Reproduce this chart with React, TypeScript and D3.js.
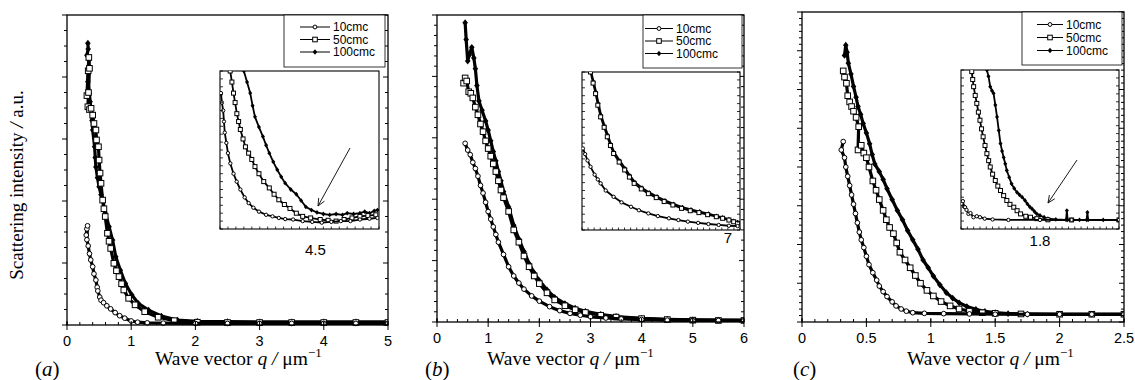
import React from "react";
import * as d3 from "d3";

type Pt = [number, number];

const SERIES_NAMES = ["10cmc", "50cmc", "100cmc"];

// ---------- Panel (a) main ----------
const a10: Pt[] = [[0.30,2.9],[0.31,3.1],[0.32,3.2],[0.31,2.75],[0.33,2.55],[0.35,2.3],[0.37,2.1],[0.40,1.88],[0.42,1.65],[0.45,1.45],[0.47,1.22],[0.48,1.1],[0.51,0.9],[0.53,0.8],[0.57,0.72],[0.62,0.62],[0.68,0.52],[0.75,0.4],[0.82,0.3],[0.9,0.22],[1.0,0.13],[1.1,0.09],[1.25,0.07],[1.5,0.06],[2,0.05],[2.5,0.05],[3,0.05],[3.5,0.05],[4,0.05],[4.5,0.05],[5,0.05]];
const a50: Pt[] = [[0.31,7.4],[0.33,8.2],[0.34,8.63],[0.35,8.28],[0.335,7.5],[0.325,7.04],[0.35,6.95],[0.375,6.99],[0.4,6.77],[0.42,6.5],[0.45,6.29],[0.46,5.97],[0.49,5.75],[0.5,5.32],[0.515,4.9],[0.53,4.57],[0.555,4.03],[0.575,3.75],[0.595,3.5],[0.63,2.96],[0.655,2.7],[0.68,2.47],[0.73,1.99],[0.77,1.75],[0.81,1.56],[0.85,1.33],[0.885,1.13],[0.96,0.86],[1.06,0.65],[1.21,0.43],[1.42,0.25],[1.67,0.14],[2.03,0.09],[2.5,0.08],[3,0.08],[3.5,0.08],[4,0.08],[4.5,0.08],[5,0.08]];
const a100: Pt[] = [[0.325,9.09],[0.33,8.9],[0.31,8.7],[0.34,8.55],[0.33,8.2],[0.325,7.85],[0.35,7.47],[0.36,7.2],[0.375,6.94],[0.39,6.6],[0.4,6.29],[0.43,5.75],[0.44,5.4],[0.45,5.1],[0.475,4.75],[0.5,4.46],[0.53,4.2],[0.555,4.03],[0.6,3.6],[0.655,3.17],[0.71,2.74],[0.76,2.2],[0.83,1.77],[0.91,1.34],[1.01,0.97],[1.11,0.7],[1.27,0.48],[1.47,0.29],[1.72,0.16],[2.03,0.12],[2.5,0.11],[3,0.1],[3.5,0.1],[4,0.1],[4.5,0.1],[5,0.1]];

// ---------- Panel (a) inset ----------
const ia10: Pt[] = [[3.312,0.86],[3.324,0.8],[3.34,0.75],[3.35,0.68],[3.36,0.61],[3.38,0.545],[3.4,0.48],[3.43,0.415],[3.47,0.35],[3.51,0.3],[3.556,0.25],[3.61,0.2],[3.66,0.164],[3.72,0.135],[3.79,0.11],[3.88,0.09],[3.96,0.08],[4.04,0.07],[4.12,0.063],[4.22,0.06],[4.34,0.05],[4.46,0.045],[4.58,0.04],[4.7,0.045],[4.82,0.05],[4.94,0.05],[5.06,0.06],[5.18,0.065],[5.28,0.07]];
const ia50: Pt[] = [[3.428,1.0],[3.45,0.93],[3.47,0.86],[3.49,0.8],[3.512,0.73],[3.534,0.68],[3.556,0.63],[3.59,0.57],[3.62,0.52],[3.66,0.48],[3.7,0.44],[3.74,0.395],[3.79,0.35],[3.85,0.3],[3.92,0.26],[3.98,0.22],[4.04,0.185],[4.11,0.155],[4.18,0.13],[4.26,0.1],[4.34,0.08],[4.44,0.07],[4.56,0.06],[4.66,0.055],[4.76,0.05],[4.86,0.06],[4.96,0.07],[5.06,0.08],[5.16,0.085],[5.26,0.09]];
const ia100: Pt[] = [[3.6,1.0],[3.64,0.93],[3.68,0.86],[3.71,0.78],[3.74,0.71],[3.79,0.645],[3.84,0.585],[3.88,0.53],[3.92,0.48],[3.97,0.425],[4.02,0.375],[4.07,0.33],[4.12,0.29],[4.19,0.25],[4.26,0.22],[4.32,0.18],[4.38,0.14],[4.45,0.12],[4.52,0.105],[4.6,0.095],[4.68,0.09],[4.76,0.095],[4.84,0.09],[4.9,0.1],[4.98,0.095],[5.06,0.1],[5.12,0.11],[5.18,0.1],[5.24,0.115],[5.28,0.12]];

// ---------- Panel (b) main ----------
const b10: Pt[] = [[0.55,5.82],[0.6,5.6],[0.65,5.45],[0.7,5.2],[0.75,5.0],[0.8,4.75],[0.85,4.45],[0.9,4.2],[0.95,3.9],[1.0,3.6],[1.05,3.35],[1.1,3.1],[1.15,2.85],[1.2,2.6],[1.3,2.2],[1.4,1.8],[1.5,1.5],[1.6,1.27],[1.7,1.07],[1.85,0.85],[2.0,0.68],[2.2,0.5],[2.4,0.37],[2.6,0.28],[2.8,0.22],[3.0,0.17],[3.3,0.13],[3.6,0.1],[4,0.08],[4.5,0.06],[5,0.05],[5.5,0.05],[6,0.05]];
const b50: Pt[] = [[0.52,7.78],[0.55,7.95],[0.58,7.85],[0.62,7.5],[0.66,7.45],[0.7,7.3],[0.75,7.0],[0.8,6.75],[0.85,6.45],[0.9,6.2],[0.95,5.9],[1.0,5.65],[1.05,5.4],[1.1,5.15],[1.15,4.9],[1.2,4.6],[1.25,4.3],[1.3,4.05],[1.4,3.6],[1.5,3.0],[1.6,2.6],[1.7,2.15],[1.8,1.8],[1.9,1.5],[2.0,1.25],[2.15,0.95],[2.3,0.72],[2.5,0.53],[2.7,0.4],[2.9,0.31],[3.2,0.22],[3.5,0.16],[4,0.11],[4.5,0.08],[5,0.06],[5.5,0.05],[6,0.05]];
const b100: Pt[] = [[0.55,9.75],[0.57,9.2],[0.6,8.5],[0.63,8.7],[0.68,8.95],[0.72,8.6],[0.75,8.25],[0.78,7.7],[0.82,7.2],[0.88,6.9],[0.95,6.55],[1.0,6.25],[1.05,5.9],[1.1,5.55],[1.15,5.25],[1.2,4.9],[1.25,4.6],[1.3,4.25],[1.4,3.75],[1.5,3.15],[1.6,2.7],[1.7,2.3],[1.8,1.9],[1.9,1.6],[2.0,1.35],[2.15,1.05],[2.3,0.8],[2.5,0.6],[2.7,0.45],[2.9,0.35],[3.2,0.25],[3.5,0.18],[4,0.12],[4.5,0.09],[5,0.07],[5.5,0.06],[6,0.05]];

// ---------- Panel (b) inset ----------
const ib10: Pt[] = [[1.039,0.516],[1.13,0.48],[1.228,0.44],[1.351,0.4],[1.52,0.35],[1.65,0.32],[1.767,0.295],[1.975,0.25],[2.3,0.21],[2.625,0.175],[3.015,0.147],[3.34,0.125],[3.73,0.105],[4.12,0.088],[4.575,0.074],[4.965,0.063],[5.355,0.053],[5.778,0.045],[6.2,0.038],[6.623,0.032],[7.045,0.027],[7.403,0.025]];
const ib50: Pt[] = [[1.351,1.0],[1.455,0.93],[1.559,0.863],[1.65,0.79],[1.767,0.716],[1.91,0.65],[2.04,0.59],[2.17,0.535],[2.3,0.484],[2.528,0.43],[2.755,0.38],[2.95,0.335],[3.145,0.295],[3.438,0.26],[3.73,0.23],[4.055,0.205],[4.38,0.18],[4.738,0.158],[5.095,0.137],[5.453,0.122],[5.81,0.11],[6.168,0.097],[6.525,0.084],[6.785,0.074],[7.045,0.063],[7.24,0.052],[7.403,0.042]];
const ib100: Pt[] = [[1.377,1.0],[1.488,0.935],[1.585,0.87],[1.683,0.8],[1.793,0.725],[1.943,0.655],[2.073,0.598],[2.203,0.54],[2.333,0.49],[2.56,0.438],[2.788,0.388],[2.983,0.343],[3.178,0.303],[3.47,0.268],[3.763,0.238],[4.088,0.212],[4.413,0.188],[4.77,0.165],[5.128,0.145],[5.485,0.13],[5.843,0.117],[6.2,0.104],[6.525,0.09],[6.785,0.08],[7.045,0.068],[7.24,0.058],[7.403,0.05]];

// ---------- Panel (c) main ----------
const c10: Pt[] = [[0.32,5.82],[0.305,5.55],[0.33,5.3],[0.34,5.0],[0.355,4.7],[0.37,4.4],[0.385,4.1],[0.4,3.8],[0.415,3.5],[0.43,3.2],[0.445,2.9],[0.46,2.65],[0.48,2.4],[0.5,2.12],[0.52,1.85],[0.55,1.59],[0.58,1.35],[0.6,1.16],[0.63,0.98],[0.66,0.82],[0.7,0.65],[0.73,0.52],[0.77,0.42],[0.81,0.35],[0.86,0.3],[0.95,0.28],[1.1,0.27],[1.3,0.26],[1.5,0.25],[1.75,0.25],[2.0,0.25],[2.25,0.25],[2.5,0.25]];
const c50: Pt[] = [[0.32,8.1],[0.33,7.9],[0.345,7.7],[0.355,7.3],[0.37,7.1],[0.385,6.95],[0.4,6.8],[0.42,6.6],[0.44,6.3],[0.435,5.55],[0.46,5.7],[0.48,5.45],[0.5,5.3],[0.52,5.0],[0.55,4.55],[0.575,4.25],[0.6,3.95],[0.63,3.6],[0.655,3.3],[0.68,3.05],[0.71,2.85],[0.735,2.55],[0.76,2.25],[0.8,2.0],[0.84,1.75],[0.88,1.5],[0.92,1.25],[0.97,1.02],[1.02,0.84],[1.08,0.66],[1.15,0.52],[1.22,0.42],[1.3,0.35],[1.4,0.3],[1.5,0.28],[1.7,0.26],[2.0,0.25],[2.25,0.25],[2.5,0.25]];
const c100: Pt[] = [[0.33,8.6],[0.34,8.93],[0.35,8.7],[0.36,8.35],[0.38,8.0],[0.4,7.6],[0.42,7.25],[0.435,6.95],[0.455,6.7],[0.475,6.4],[0.5,6.1],[0.525,5.75],[0.545,5.4],[0.565,5.1],[0.6,4.85],[0.63,4.6],[0.66,4.3],[0.7,3.95],[0.74,3.6],[0.78,3.3],[0.82,2.95],[0.86,2.65],[0.9,2.35],[0.94,2.0],[0.98,1.75],[1.02,1.48],[1.07,1.2],[1.12,0.95],[1.17,0.77],[1.22,0.62],[1.28,0.5],[1.35,0.41],[1.42,0.34],[1.5,0.3],[1.6,0.27],[1.75,0.25],[2.0,0.25],[2.25,0.25],[2.5,0.25]];

// ---------- Panel (c) inset ----------
const ic10: Pt[] = [[1.304,0.158],[1.312,0.175],[1.32,0.14],[1.326,0.137],[1.335,0.12],[1.347,0.095],[1.36,0.1],[1.379,0.074],[1.4,0.08],[1.42,0.074],[1.45,0.065],[1.5,0.06],[1.6,0.057],[1.8,0.057],[2.0,0.057],[2.3,0.057]];
const ic50: Pt[] = [[1.368,0.99],[1.374,0.94],[1.38,0.895],[1.39,0.84],[1.4,0.79],[1.41,0.735],[1.42,0.684],[1.43,0.63],[1.44,0.58],[1.452,0.525],[1.464,0.474],[1.475,0.43],[1.485,0.39],[1.5,0.345],[1.517,0.305],[1.533,0.27],[1.55,0.242],[1.57,0.21],[1.59,0.179],[1.61,0.155],[1.634,0.137],[1.655,0.115],[1.677,0.095],[1.71,0.08],[1.74,0.074],[1.78,0.065],[1.85,0.058],[2.0,0.057],[2.3,0.057]];
const ic100: Pt[] = [[1.464,1.0],[1.474,0.96],[1.485,0.895],[1.496,0.87],[1.506,0.853],[1.517,0.78],[1.528,0.705],[1.539,0.62],[1.55,0.537],[1.56,0.49],[1.57,0.45],[1.58,0.41],[1.59,0.368],[1.605,0.325],[1.62,0.284],[1.637,0.255],[1.655,0.23],[1.67,0.215],[1.687,0.2],[1.705,0.18],[1.72,0.158],[1.735,0.14],[1.75,0.126],[1.765,0.11],[1.78,0.095],[1.8,0.085],[1.826,0.074],[1.85,0.065],[1.9,0.06],[1.965,0.058],[1.97,0.116],[1.975,0.058],[2.05,0.058],[2.095,0.058],[2.1,0.105],[2.105,0.058],[2.2,0.057],[2.3,0.057]];

// ---------- Tick values / labels ----------
const xTicksA = [0, 1, 2, 3, 4, 5];
const xTicksB = [0, 1, 2, 3, 4, 5, 6];
const xTicksC = [0, 0.5, 1, 1.5, 2, 2.5];
const xTickLabelsC = ["0", "0.5", "1", "1.5", "2", "2.5"];
const insetTickA = 4.5, insetLabelA = "4.5";
const insetTickB = 7, insetLabelB = "7";
const insetTickC = 1.8, insetLabelC = "1.8";
const panelTags = ["a", "b", "c"];

const SERIF = "'Liberation Serif', 'Times New Roman', serif";
const SANS = "'Liberation Sans', Arial, Helvetica, sans-serif";

function marker(kind: number, x: number, y: number, s: number, key: string | number) {
  if (kind === 0)
    return <circle key={key} cx={x} cy={y} r={s * 0.42} fill="#fff" stroke="#000" strokeWidth={1} />;
  if (kind === 1)
    return <rect key={key} x={x - s / 2} y={y - s / 2} width={s} height={s} fill="#fff" stroke="#000" strokeWidth={1} />;
  return <path key={key} d={`M${x},${y - s * 0.6}L${x + s * 0.5},${y}L${x},${y + s * 0.6}L${x - s * 0.5},${y}Z`} fill="#000" />;
}

function Series({ data, xs, ys, kind, sw, ms }: any) {
  const line = d3.line<Pt>().x((d) => xs(d[0])).y((d) => ys(d[1]));
  return (
    <g>
      <path d={line(data) || ""} fill="none" stroke="#000" strokeWidth={sw} strokeLinejoin="round" />
      {data.map((d: Pt, i: number) => marker(kind, xs(d[0]), ys(d[1]), ms, i))}
    </g>
  );
}

function Arrow({ x1, y1, x2, y2 }: any) {
  const ang = Math.atan2(y2 - y1, x2 - x1);
  const L = 8, spread = 0.42;
  const hx1 = x2 - L * Math.cos(ang - spread), hy1 = y2 - L * Math.sin(ang - spread);
  const hx2 = x2 - L * Math.cos(ang + spread), hy2 = y2 - L * Math.sin(ang + spread);
  return (
    <g stroke="#000" strokeWidth={0.9} fill="none">
      <line x1={x1} y1={y1} x2={x2} y2={y2} />
      <polyline points={`${hx1},${hy1} ${x2},${y2} ${hx2},${hy2}`} />
    </g>
  );
}

function Panel({ cfg, idx }: any) {
  const { frame, xDomain, xTicks, xLabels, xMinor, yMajor, ySub, series, inset, legend, arrow, titleX, tagX } = cfg;
  const xs = d3.scaleLinear().domain(xDomain).range([frame.x0, frame.x1]);
  const ys = d3.scaleLinear().domain([0, 10]).range([frame.y1, frame.y0]);
  const yMaj = d3.range(yMajor + 1).map((i) => (i * 10) / yMajor);
  const yMin = d3.range(yMajor * ySub + 1).map((i) => (i * 10) / (yMajor * ySub)).filter((_, i) => i % ySub !== 0);
  const nMinX = Math.round((xDomain[1] - xDomain[0]) / xMinor);
  const xMin = d3.range(nMinX + 1).map((i) => xDomain[0] + i * xMinor);

  const xi = d3.scaleLinear().domain(inset.domain).range([inset.x0, inset.x1]);
  const yi = d3.scaleLinear().domain([0, 1]).range([inset.y1, inset.y0]);
  const nIX = Math.round((inset.domain[1] - inset.domain[0]) / inset.xStep);
  const iTx = d3.range(nIX + 1).map((i) => inset.domain[0] + i * inset.xStep);
  const iTy = d3.range(0, 21).map((i) => i * 0.05);

  const clipMain = `clipMain${idx}`;
  const clipInset = `clipInset${idx}`;
  const order = [2, 1, 0];

  return (
    <g>
      <defs>
        <clipPath id={clipMain}>
          <rect x={frame.x0} y={frame.y0} width={frame.x1 - frame.x0} height={frame.y1 - frame.y0 + 2} />
        </clipPath>
        <clipPath id={clipInset}>
          <rect x={inset.x0} y={inset.y0} width={inset.x1 - inset.x0} height={inset.y1 - inset.y0} />
        </clipPath>
      </defs>

      {/* main data */}
      <g clipPath={`url(#${clipMain})`}>
        {order.map((k) => (
          <Series key={k} data={series[k]} xs={xs} ys={ys} kind={k} sw={3.2} ms={5.6} />
        ))}
      </g>

      {/* frame */}
      <rect x={frame.x0} y={frame.y0} width={frame.x1 - frame.x0} height={frame.y1 - frame.y0} fill="none" stroke="#000" strokeWidth={1.3} />

      {/* ticks */}
      <g stroke="#000" strokeWidth={1}>
        {yMaj.map((v, i) => (
          <g key={"ym" + i}>
            <line x1={frame.x0 - 5} x2={frame.x0} y1={ys(v)} y2={ys(v)} />
            <line x1={frame.x1 - 5} x2={frame.x1} y1={ys(v)} y2={ys(v)} />
          </g>
        ))}
        {yMin.map((v, i) => (
          <g key={"yn" + i}>
            <line x1={frame.x0 - 3} x2={frame.x0} y1={ys(v)} y2={ys(v)} />
            <line x1={frame.x1 - 3} x2={frame.x1} y1={ys(v)} y2={ys(v)} />
          </g>
        ))}
        {xTicks.map((v: number, i: number) => (
          <line key={"xm" + i} x1={xs(v)} x2={xs(v)} y1={frame.y1 - 4} y2={frame.y1 + 5} />
        ))}
        {xMin.map((v, i) => (
          <line key={"xn" + i} x1={xs(v)} x2={xs(v)} y1={frame.y1 - 3} y2={frame.y1} />
        ))}
      </g>

      {/* x tick labels */}
      {xTicks.map((v: number, i: number) => (
        <text key={"xl" + i} x={xs(v)} y={frame.y1 + 21} textAnchor="middle" fontFamily={SANS} fontSize={14.5} fill="#000">
          {xLabels[i]}
        </text>
      ))}

      {/* x title */}
      <text x={titleX} y={365} fontFamily={SERIF} fontSize={19.5} fill="#000">
        Wave vector <tspan fontStyle="italic">q</tspan> <tspan fontStyle="italic">/</tspan> μm
        <tspan dy={-8} fontSize={13}>−1</tspan>
      </text>

      {/* panel tag */}
      <text x={tagX} y={376} fontFamily={SERIF} fontSize={21} fill="#000">
        (<tspan fontStyle="italic">{panelTags[idx]}</tspan>)
      </text>

      {/* inset */}
      <rect x={inset.x0} y={inset.y0} width={inset.x1 - inset.x0} height={inset.y1 - inset.y0} fill="#fff" stroke="#000" strokeWidth={1.1} />
      <g clipPath={`url(#${clipInset})`}>
        {order.map((k) => (
          <Series key={k} data={inset.series[k]} xs={xi} ys={yi} kind={k} sw={1.8} ms={4} />
        ))}
      </g>
      <g stroke="#000" strokeWidth={0.8}>
        {iTy.map((v, i) => (
          <g key={"iy" + i}>
            <line x1={inset.x0} x2={inset.x0 + 3} y1={yi(v)} y2={yi(v)} />
            {inset.rightTicks && <line x1={inset.x1 - 3} x2={inset.x1} y1={yi(v)} y2={yi(v)} />}
          </g>
        ))}
        {iTx.map((v, i) => (
          <line key={"ix" + i} x1={xi(v)} x2={xi(v)} y1={inset.y1} y2={inset.y1 - 2.5} />
        ))}
      </g>
      <text x={xi(inset.tick)} y={inset.labelY} textAnchor="middle" fontFamily={SANS} fontSize={15} fill="#000">
        {inset.label}
      </text>

      {arrow && <Arrow {...arrow} />}

      {/* legend */}
      <rect x={legend.x0} y={legend.y0} width={legend.x1 - legend.x0} height={legend.y1 - legend.y0} fill="#fff" stroke="#000" strokeWidth={0.8} />
      {SERIES_NAMES.map((name, k) => (
        <g key={"lg" + k}>
          <line x1={legend.l0} x2={legend.l1} y1={legend.rows[k]} y2={legend.rows[k]} stroke="#000" strokeWidth={1} />
          {marker(k, (legend.l0 + legend.l1) / 2, legend.rows[k], 4.6, "m" + k)}
          <text x={legend.tx} y={legend.rows[k] + 4} fontFamily={SANS} fontSize={12} fill="#000">
            {name}
          </text>
        </g>
      ))}
    </g>
  );
}

export default function App() {
  const panels = [
    {
      frame: { x0: 67, x1: 388, y0: 15, y1: 325 },
      xDomain: [0, 5], xTicks: xTicksA, xLabels: xTicksA.map(String), xMinor: 0.2,
      yMajor: 5, ySub: 4,
      series: [a10, a50, a100],
      inset: { x0: 220, x1: 379, y0: 71, y1: 229, domain: [3.3, 5.3], xStep: 0.1, series: [ia10, ia50, ia100], tick: insetTickA, label: insetLabelA, labelY: 255, rightTicks: false },
      legend: { x0: 284, x1: 385, y0: 15, y1: 67, rows: [27, 39.5, 52], l0: 300, l1: 330, tx: 333 },
      arrow: { x1: 350, y1: 148, x2: 318, y2: 206 },
      titleX: 155, tagX: 35,
    },
    {
      frame: { x0: 437, x1: 744, y0: 15, y1: 322 },
      xDomain: [0, 6], xTicks: xTicksB, xLabels: xTicksB.map(String), xMinor: 0.2,
      yMajor: 5, ySub: 6,
      series: [b10, b50, b100],
      inset: { x0: 582, x1: 740, y0: 72, y1: 230, domain: [1, 7.5], xStep: 0.25, series: [ib10, ib50, ib100], tick: insetTickB, label: insetLabelB, labelY: 243, rightTicks: true },
      legend: { x0: 643, x1: 742, y0: 15, y1: 68, rows: [28.5, 41, 53.5], l0: 645, l1: 673, tx: 676 },
      arrow: null,
      titleX: 487, tagX: 425,
    },
    {
      frame: { x0: 802, x1: 1124, y0: 12, y1: 322 },
      xDomain: [0, 2.5], xTicks: xTicksC, xLabels: xTickLabelsC, xMinor: 0.1,
      yMajor: 8, ySub: 6,
      series: [c10, c50, c100],
      inset: { x0: 961, x1: 1119, y0: 70, y1: 229, domain: [1.3, 2.3], xStep: 0.04, series: [ic10, ic50, ic100], tick: insetTickC, label: insetLabelC, labelY: 246, rightTicks: true },
      legend: { x0: 1022, x1: 1122, y0: 12, y1: 65, rows: [24.5, 37.5, 50.5], l0: 1037, l1: 1063, tx: 1066 },
      arrow: { x1: 1077, y1: 160, x2: 1048, y2: 203 },
      titleX: 907, tagX: 793,
    },
  ];

  return (
    <svg width={1135} height={380} viewBox="0 0 1135 380" style={{ position: "absolute", left: 0, top: 0, background: "#fff" }}>
      <rect x={0} y={0} width={1135} height={380} fill="#fff" />
      <text transform="translate(23,185) rotate(-90)" textAnchor="middle" fontFamily={SERIF} fontSize={19} fill="#000">
        Scattering intensity <tspan fontStyle="italic">/</tspan> a.u.
      </text>
      {panels.map((p, i) => (
        <Panel key={i} cfg={p} idx={i} />
      ))}
    </svg>
  );
}
